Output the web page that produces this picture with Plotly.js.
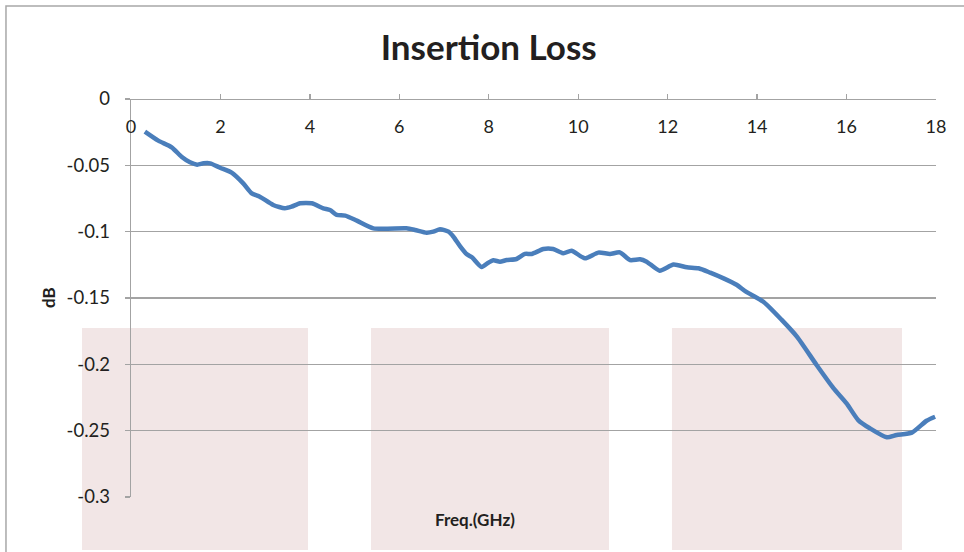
<!DOCTYPE html>
<html>
<head>
<meta charset="utf-8">
<script src="https://cdn.plot.ly/plotly-3.0.1.min.js"></script>
<style>
html,body{margin:0;padding:0;background:#fff;}
#chart{width:964px;height:552px;}
</style>
</head>
<body>
<div id="chart"></div>
<script>
// Frequency (GHz)
const freqGHz = [0.31,0.61,0.91,1.13,1.32,1.48,1.62,1.77,1.99,2.25,2.51,2.70,2.88,3.18,3.44,3.59,3.78,4.04,4.30,4.45,4.60,4.79,5.05,5.42,6.16,6.35,6.61,6.76,6.91,7.10,7.21,7.36,7.51,7.63,7.84,7.99,8.10,8.25,8.40,8.62,8.81,8.96,9.22,9.44,9.67,9.85,10.15,10.45,10.71,10.93,11.16,11.38,11.53,11.82,12.13,12.43,12.69,12.95,13.25,13.54,13.75,14.14,14.55,14.89,15.33,15.71,16.00,16.26,16.52,16.90,17.12,17.46,17.79,17.98];
// Insertion loss (dB)
const lossDB = [-0.0246,-0.0314,-0.0364,-0.0435,-0.0477,-0.0495,-0.0485,-0.0485,-0.0518,-0.0555,-0.0636,-0.0711,-0.0736,-0.0799,-0.0824,-0.0812,-0.0786,-0.0786,-0.0824,-0.0837,-0.0874,-0.0879,-0.0917,-0.0975,-0.0975,-0.0987,-0.1008,-0.1000,-0.0982,-0.1000,-0.1038,-0.1110,-0.1170,-0.1195,-0.1266,-0.1234,-0.1216,-0.1226,-0.1214,-0.1206,-0.1168,-0.1168,-0.1131,-0.1131,-0.1163,-0.1143,-0.1201,-0.1158,-0.1168,-0.1156,-0.1214,-0.1208,-0.1226,-0.1294,-0.1248,-0.1269,-0.1276,-0.1309,-0.1352,-0.1400,-0.1452,-0.1528,-0.1665,-0.1791,-0.2005,-0.2181,-0.2294,-0.2420,-0.2482,-0.2550,-0.2533,-0.2515,-0.2425,-0.2395];
const xTickVals = [0,2,4,6,8,10,12,14,16,18];
const yTickVals = [0,-0.05,-0.1,-0.15,-0.2,-0.25,-0.3];
const yTickText = ['0','-0.05','-0.1','-0.15','-0.2','-0.25','-0.3'];

const FONT = 'Lato, Calibri, "Noto Sans", sans-serif';
const TXT = '#231f20';
const GRID = '#a3a3a3';

const trace = {
  x: freqGHz, y: lossDB, type: 'scatter', mode: 'lines',
  line: {color: '#4a7ebb', width: 4.5, shape: 'spline', smoothing: 0.6},
  hoverinfo: 'x+y'
};

function rect(x0, x1) {
  return {type:'rect', xref:'paper', yref:'paper', x0:x0, x1:x1, y0:-0.1332, y1:0.4246,
    fillcolor:'#f2e6e6', line:{width:0}, layer:'below'};
}

const layout = {
  width: 964, height: 552,
  margin: {l:131, r:28, t:99, b:55, pad:0},
  paper_bgcolor: '#ffffff',
  plot_bgcolor: 'rgba(0,0,0,0)',
  showlegend: false,
  font: {family: FONT, color: TXT, size: 18},
  title: {text: 'Insertion Loss', font: {family: FONT, size: 35, weight: 'bold', color: TXT},
          xref: 'container', x: 0.507, xanchor: 'center', yref: 'container', y: 1 - 48/552, yanchor: 'middle'},
  xaxis: {
    range: [0, 18], tickvals: xTickVals, anchor: 'free', position: 1, side: 'bottom',
    ticks: 'inside', ticklen: 5, tickcolor: GRID, tickwidth: 1.3,
    showline: true, linecolor: GRID, linewidth: 1.3,
    showgrid: false, zeroline: false,
    tickfont: {family: FONT, size: 18, color: TXT},
    ticklabelstandoff: 11
  },
  yaxis: {
    range: [-0.3, 0], tickvals: yTickVals, ticktext: yTickText,
    ticks: 'outside', ticklen: 5, tickcolor: GRID, tickwidth: 1.3,
    showline: true, linecolor: GRID, linewidth: 1.3,
    showgrid: true, gridcolor: GRID, gridwidth: 1.3, zeroline: false,
    tickfont: {family: FONT, size: 18.5, color: TXT},
    ticklabelstandoff: 11
  },
  shapes: [
    rect(-0.0609, 0.2199), rect(0.2981, 0.5938), rect(0.6720, 0.9578),
    {type:'path', xref:'paper', yref:'paper', path:'M -0.1553,-0.2 L -0.1553,1.2337 L 1.1,1.2337',
     line:{color:'#a8a8a8', width:1.5}, layer:'above'}
  ],
  annotations: [
    {text:'<b>dB</b>', xref:'paper', yref:'paper', x:(48-131)/805, y:(497-298)/398, showarrow:false,
     textangle:-90, font:{family:FONT, size:17, color:TXT}, xanchor:'center', yanchor:'middle'},
    {text:'<b>Freq.(GHz)</b>', xref:'paper', yref:'paper', x:(475-131)/805, y:(497-519)/398, showarrow:false,
     font:{family:FONT, size:17, color:TXT}, xanchor:'center', yanchor:'middle'}
  ]
};

Plotly.newPlot('chart', [trace], layout, {displayModeBar:false, staticPlot:true});
</script>
</body>
</html>
